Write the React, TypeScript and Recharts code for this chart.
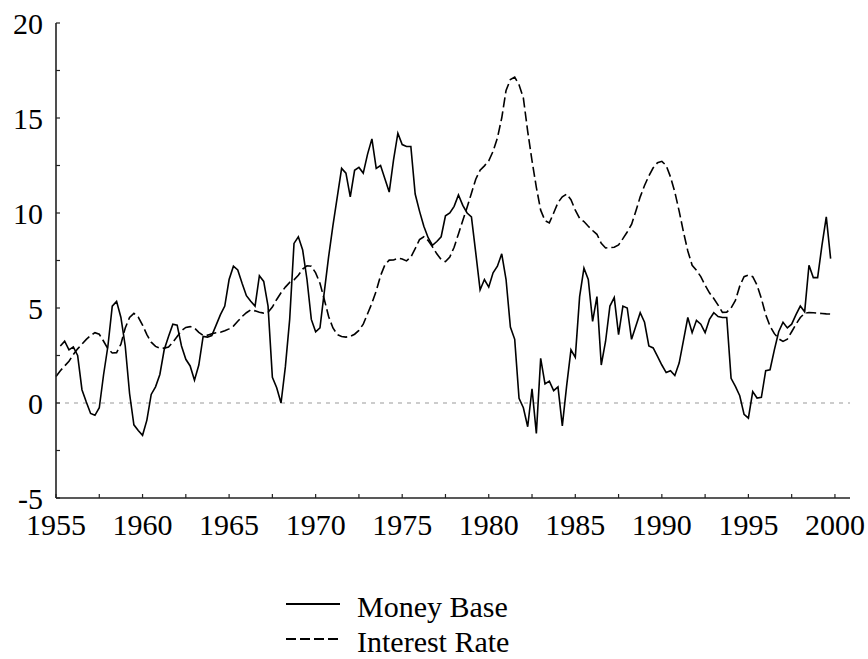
import { LineChart, Line, XAxis, YAxis, ReferenceLine, Legend } from "recharts";

// quarterly observations, first quarter of 1955 to last quarter of 1999
const startYear = 1955;

// money base growth, % (no value for 1955 Q1)
const moneyBase = [
  null, 3.0, 3.25, 2.8,
  2.95, 2.5, 0.7, 0.05,
  -0.55, -0.65, -0.25, 1.5,
  3.0, 5.1, 5.35, 4.5,
  3.0, 0.5, -1.15, -1.45,
  -1.7, -0.9, 0.45, 0.85,
  1.5, 2.8, 3.5, 4.15,
  4.1, 3.0, 2.3, 1.95,
  1.2, 2.0, 3.5, 3.47,
  3.55, 4.1, 4.65, 5.1,
  6.5, 7.2, 7.0, 6.3,
  5.65, 5.35, 5.1, 6.7,
  6.4, 5.1, 1.35, 0.8,
  0.0, 1.9, 4.4, 8.4,
  8.75, 8.05, 6.5, 4.4,
  3.75, 3.95, 5.85, 7.7,
  9.35, 10.85, 12.35, 12.1,
  10.85, 12.25, 12.4, 12.1,
  13.1, 13.9, 12.35, 12.5,
  11.8, 11.1, 12.8, 14.2,
  13.6, 13.5, 13.5, 11.0,
  10.1, 9.3, 8.7, 8.3,
  8.5, 8.75, 9.85, 10.0,
  10.35, 10.95, 10.4, 10.0,
  9.8, 7.9, 5.95, 6.5,
  6.1, 6.85, 7.2, 7.85,
  6.5, 4.0, 3.35, 0.25,
  -0.25, -1.25, 0.75, -1.6,
  2.35, 1.0, 1.15, 0.65,
  0.85, -1.2, 0.9, 2.8,
  2.4, 5.6, 7.1, 6.5,
  4.3, 5.6, 2.0, 3.25,
  5.1, 5.55, 3.6, 5.1,
  5.0, 3.35, 4.05, 4.75,
  4.25, 3.0, 2.9, 2.45,
  2.0, 1.6, 1.7, 1.45,
  2.1, 3.3, 4.5, 3.7,
  4.35, 4.15, 3.7, 4.4,
  4.75, 4.55, 4.5, 4.5,
  1.3, 0.87, 0.38, -0.6,
  -0.8, 0.6, 0.26, 0.3,
  1.7, 1.75, 2.8, 3.75,
  4.25, 3.95, 4.15, 4.65,
  5.1, 4.8, 7.25, 6.6,
  6.6, 8.3, 9.8, 7.6,
];

// interest rate, %
const interestRate = [
  1.4, 1.7, 1.95, 2.2,
  2.55, 2.85, 3.1, 3.35,
  3.55, 3.7, 3.62, 3.25,
  2.85, 2.63, 2.65, 3.1,
  3.95, 4.5, 4.72, 4.52,
  4.1, 3.6, 3.2, 2.98,
  2.89, 2.89, 2.95, 3.2,
  3.5, 3.8, 3.98, 4.02,
  3.94, 3.72, 3.56, 3.57,
  3.65, 3.7, 3.72, 3.8,
  3.9, 4.05, 4.3, 4.55,
  4.75, 4.9, 4.85, 4.78,
  4.73, 4.78, 5.05, 5.45,
  5.8, 6.1, 6.35, 6.48,
  6.72, 7.05, 7.22, 7.2,
  6.85, 6.3, 5.45, 4.55,
  3.95, 3.6, 3.5, 3.47,
  3.5, 3.62, 3.82, 4.15,
  4.7, 5.25, 5.9, 6.7,
  7.27, 7.52, 7.53, 7.62,
  7.58, 7.48, 7.68, 8.12,
  8.6, 8.75, 8.55, 8.22,
  7.85, 7.55, 7.44, 7.68,
  8.2, 8.9, 9.6, 10.3,
  11.04, 11.78, 12.25, 12.48,
  12.75, 13.25, 13.95, 15.0,
  16.45, 17.02, 17.15, 16.75,
  16.05, 14.3, 12.75, 11.35,
  10.15, 9.6, 9.48, 10.0,
  10.55, 10.85, 11.0, 10.7,
  10.15, 9.72, 9.55, 9.3,
  9.08, 8.88, 8.4, 8.16,
  8.18, 8.2, 8.32, 8.65,
  9.0, 9.4, 10.1, 10.85,
  11.45, 11.95, 12.38, 12.65,
  12.72, 12.5, 11.9, 11.1,
  10.1, 9.0, 8.0, 7.25,
  6.98, 6.65, 6.2, 5.8,
  5.5, 5.15, 4.77, 4.78,
  5.0, 5.4, 6.15, 6.65,
  6.74, 6.65, 6.2, 5.5,
  4.65, 4.05, 3.65, 3.38,
  3.24, 3.36, 3.75, 4.15,
  4.5, 4.72, 4.76, 4.75,
  4.73, 4.71, 4.69, 4.68,
];

const xTicks = [1955, 1957.5, 1960, 1962.5, 1965, 1967.5, 1970, 1972.5, 1975, 1977.5, 1980, 1982.5, 1985, 1987.5, 1990, 1992.5, 1995, 1997.5, 2000];
const yTicks = [-5, -2.5, 0, 2.5, 5, 7.5, 10, 12.5, 15, 17.5, 20];

const data = interestRate.map((r, i) => ({
  year: startYear + i / 4,
  money: moneyBase[i],
  rate: r,
}));

const FONT = "'Liberation Serif', 'Times New Roman', serif";
const AXIS = "#222";

const XTick = ({ x, y, payload }: any) => (
  <g>
    <line x1={x} x2={x} y1={y} y2={y - 4} stroke={AXIS} strokeWidth={1.2} />
    {payload.value % 5 === 0 && (
      <text x={x} y={y + 37} textAnchor="middle" fontFamily={FONT} fontSize={30} fill="#000">
        {payload.value}
      </text>
    )}
  </g>
);

const YTick = ({ x, y, payload }: any) => (
  <g>
    <line x1={x} x2={x + 4} y1={y} y2={y} stroke={AXIS} strokeWidth={1.2} />
    {payload.value % 5 === 0 && (
      <text x={x - 13} y={y + 10.5} textAnchor="end" fontFamily={FONT} fontSize={30} fill="#000">
        {payload.value}
      </text>
    )}
  </g>
);

const LegendBox = () => (
  <svg width={868} height={77} style={{ display: "block" }}>
    <line x1={286} x2={340} y1={22} y2={22} stroke="#000" strokeWidth={1.8} />
    <text x={357} y={35} fontFamily={FONT} fontSize={30} fill="#000">Money Base</text>
    <line x1={286} x2={340} y1={57} y2={57} stroke="#000" strokeWidth={1.8} strokeDasharray="10 4" />
    <text x={357} y={70} fontFamily={FONT} fontSize={30} fill="#000">Interest Rate</text>
  </svg>
);

export default function App() {
  return (
    <div style={{ position: "absolute", left: 0, top: 0, background: "#fff" }}>
      <LineChart width={868} height={659} data={data} margin={{ top: 23, right: 18, left: 0, bottom: 121 }}>
        <XAxis
          dataKey="year"
          type="number"
          domain={[1955, 2000.87]}
          ticks={xTicks}
          interval={0}
          height={40}
          tickSize={0}
          tickMargin={0}
          tickLine={false}
          tick={<XTick />}
          axisLine={{ stroke: AXIS, strokeWidth: 1.6 }}
        />
        <YAxis
          type="number"
          domain={[-5, 20]}
          ticks={yTicks}
          interval={0}
          width={56}
          tickSize={0}
          tickMargin={0}
          tickLine={false}
          tick={<YTick />}
          axisLine={{ stroke: AXIS, strokeWidth: 1.6 }}
        />
        <ReferenceLine y={0} stroke="#999" strokeWidth={1} strokeDasharray="4 5" />
        <Line
          dataKey="money"
          stroke="#000"
          strokeWidth={1.6}
          dot={false}
          isAnimationActive={false}
          type="linear"
        />
        <Line
          dataKey="rate"
          stroke="#000"
          strokeWidth={1.6}
          strokeDasharray="10 4"
          dot={false}
          isAnimationActive={false}
          type="linear"
        />
        <Legend
          layout="horizontal"
          verticalAlign="middle"
          align="center"
          content={() => <LegendBox />}
          wrapperStyle={{ left: 0, top: 582, width: 868 }}
        />
      </LineChart>
    </div>
  );
}
